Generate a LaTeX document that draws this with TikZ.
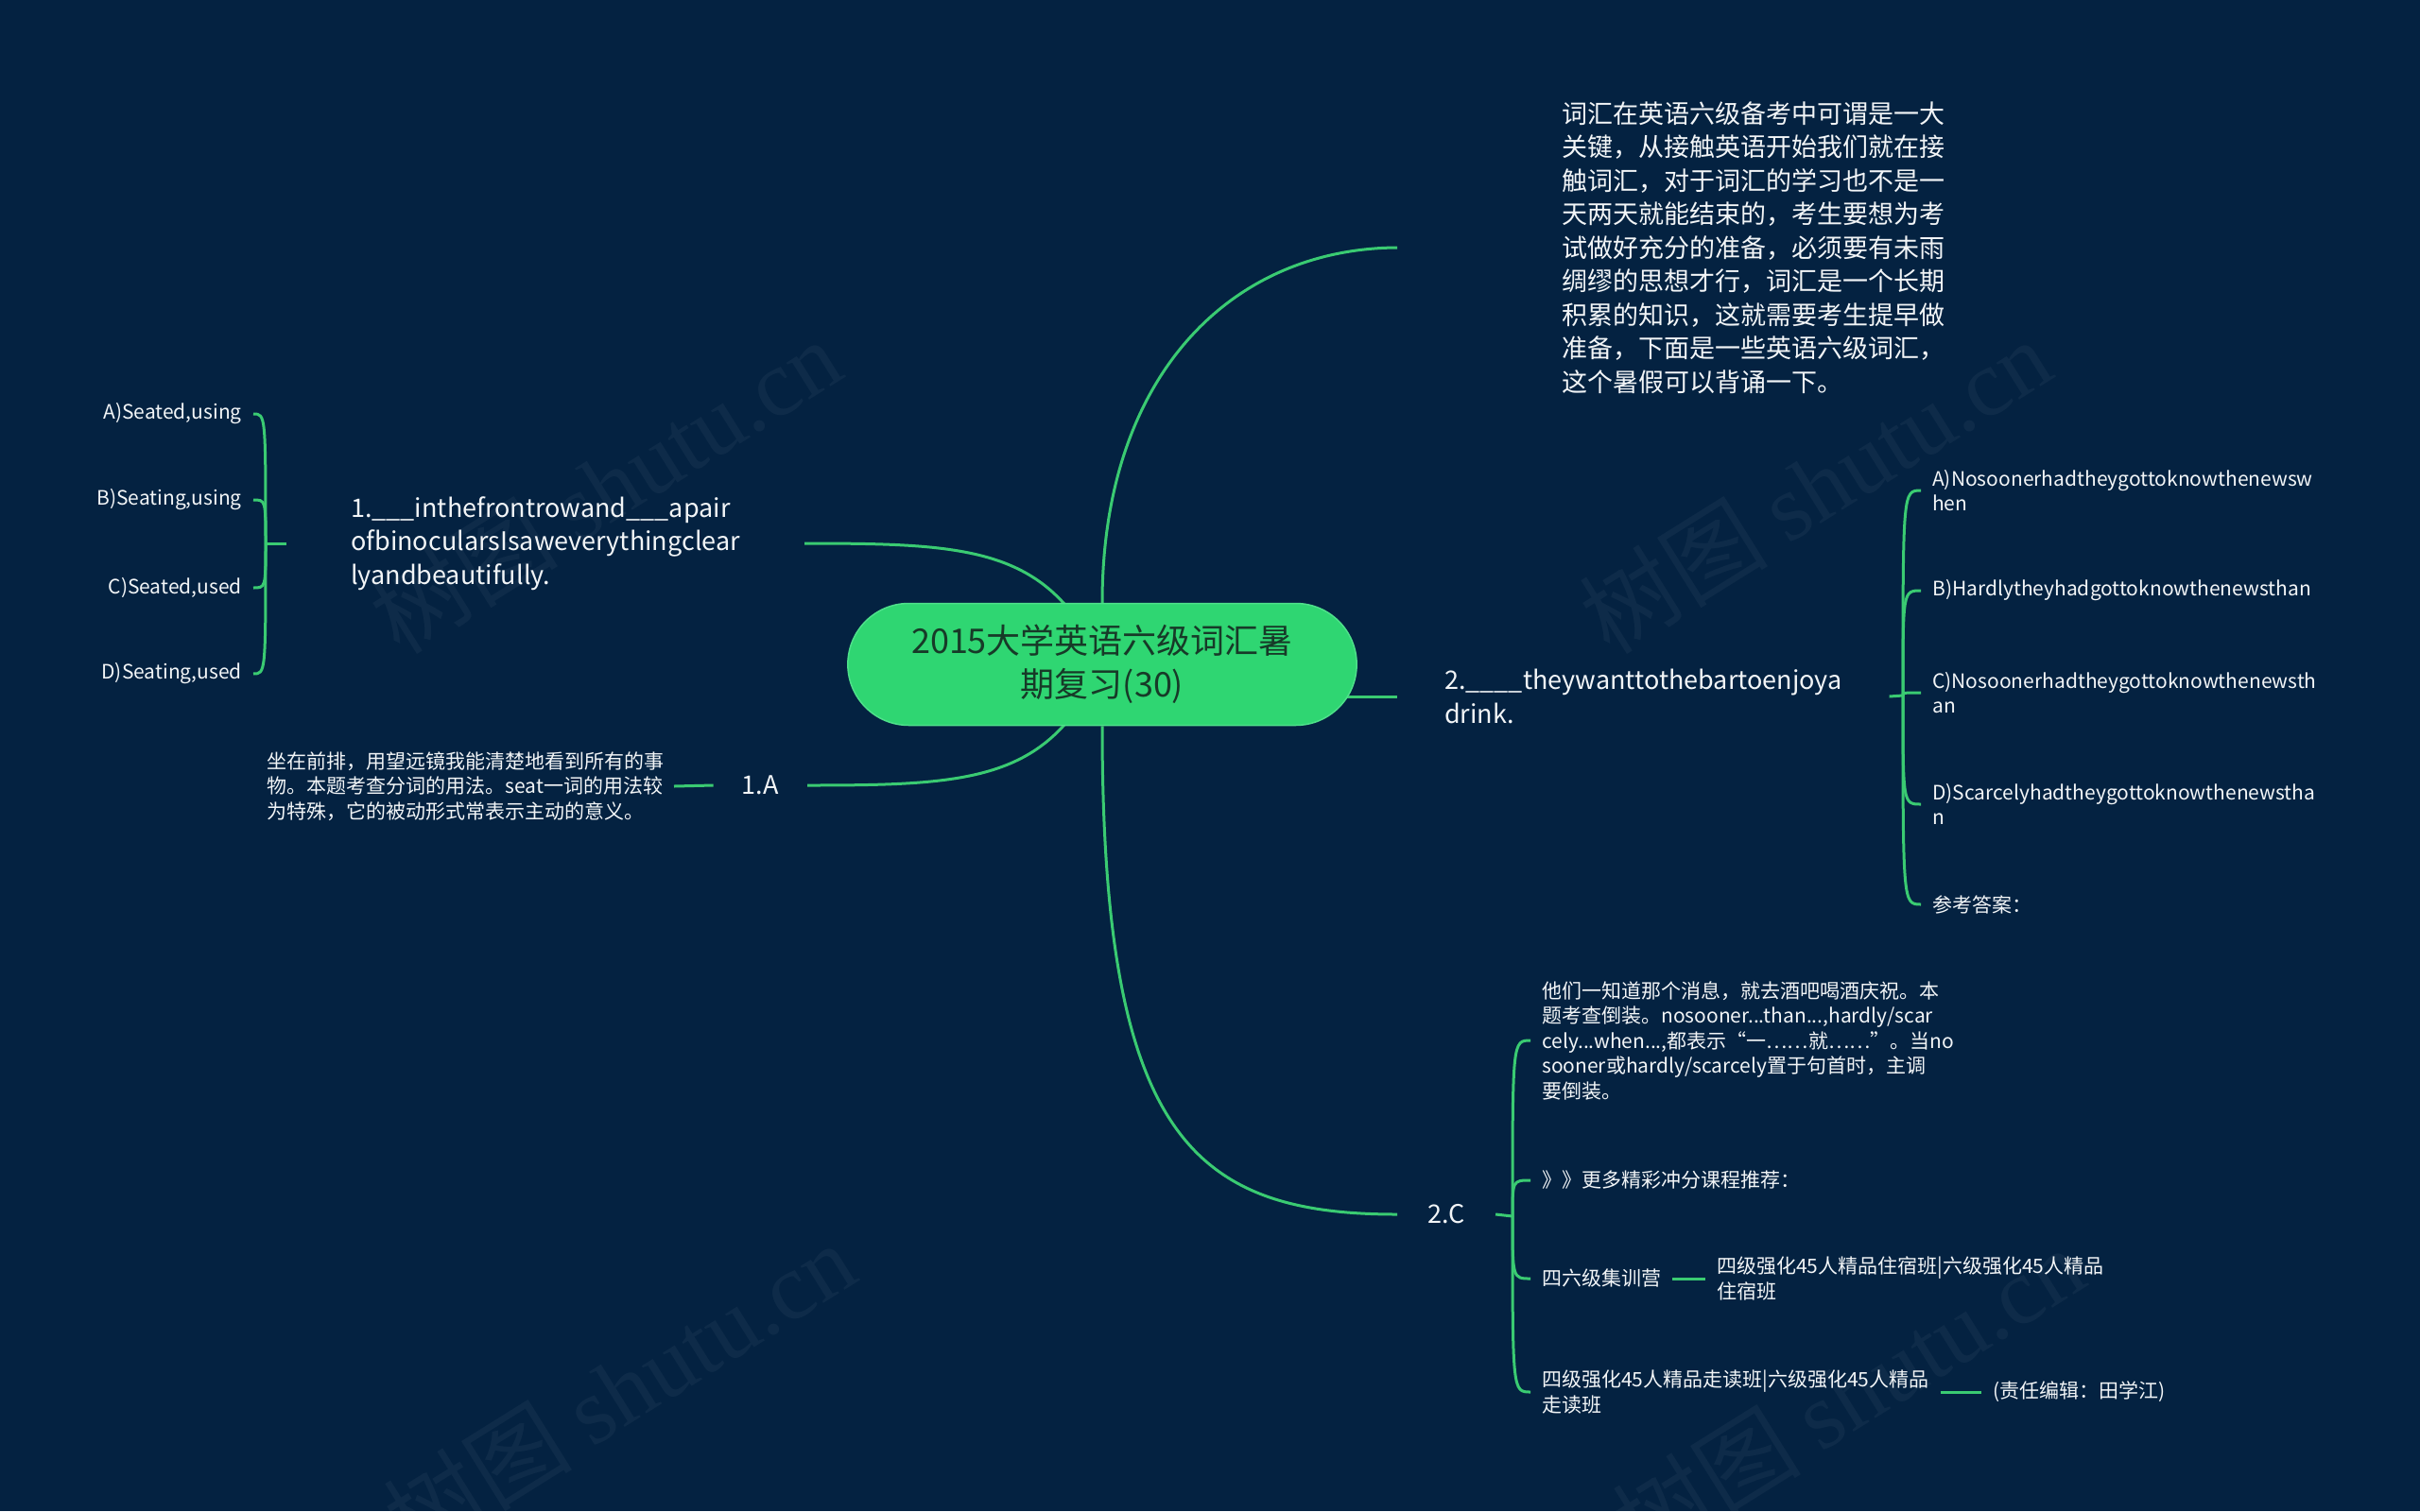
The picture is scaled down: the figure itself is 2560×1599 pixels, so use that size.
\documentclass[tikz,border=0pt]{standalone}
\usepackage{fontspec}
\setmainfont{Noto Sans CJK SC}
\newfontfamily\wmfont{Liberation Serif}
\usetikzlibrary{shapes.misc}
\pgfdeclarelayer{bg}
\pgfdeclarelayer{lines}
\pgfsetlayers{bg,lines,main}
\definecolor{bgnavy}{HTML}{042241}
\definecolor{lgreen}{HTML}{3ACB72}
\definecolor{rootfill}{HTML}{2FD672}
\definecolor{rootedge}{HTML}{4EE08A}
\definecolor{roottext}{HTML}{173A28}
\definecolor{txtc}{HTML}{F2F5F7}
\tikzset{
  conn/.style={draw=lgreen, line width=3pt},
  bigtxt/.style={text=txtc, font=\fontsize{27}{35.5}\selectfont, align=left, inner ysep=0pt},
  smtxt/.style={text=txtc, font=\fontsize{21}{26.5}\selectfont, align=left, inner ysep=0pt, inner xsep=12pt},
  wmark/.style={text=white, opacity=0.045, font=\fontsize{100}{100}\selectfont, rotate=32}
}
\begin{document}
\begin{tikzpicture}[x=1pt,y=-1pt]
\useasboundingbox (0,0) rectangle (2560,1599);
\begin{pgfonlayer}{bg}
\fill[bgnavy] (0,0) rectangle (2560,1599);
\node[wmark] (wm1) at (640,514) {树图 {\wmfont shutu.cn}};
\node[wmark] (wm2) at (1920,514) {树图 {\wmfont shutu.cn}};
\node[wmark] (wm3) at (655,1470) {树图 {\wmfont shutu.cn}};
\node[wmark] (wm4) at (1955,1475) {树图 {\wmfont shutu.cn}};
\end{pgfonlayer}

% root
\node[rounded rectangle, fill=rootfill, draw=rootedge, line width=1.5pt,
      minimum width=545pt, minimum height=129pt, text=roottext,
      font=\fontsize{36}{46}\selectfont, align=center] (root) at (1166,703)
      {2015大学英语六级词汇暑\\期复习(30)};

% intro
\node[bigtxt, inner xsep=174pt, anchor=west] (intro) at (1478,262)
 {词汇在英语六级备考中可谓是一大\\关键，从接触英语开始我们就在接\\触词汇，对于词汇的学习也不是一\\天两天就能结束的，考生要想为考\\试做好充分的准备，必须要有未雨\\绸缪的思想才行，词汇是一个长期\\积累的知识，这就需要考生提早做\\准备，下面是一些英语六级词汇，\\这个暑假可以背诵一下。};

% question 1
\node[bigtxt, inner xsep=68pt, anchor=west] (q1) at (303,575)
 {1.\_\_\_inthefrontrowand\_\_\_apair\\ofbinocularsIsaweverythingclear\\lyandbeautifully.};
\node[smtxt, align=right, anchor=east] (oa) at (268,438) {A)Seated,using};
\node[smtxt, align=right, anchor=east] (ob) at (268,529) {B)Seating,using};
\node[smtxt, align=right, anchor=east] (oc) at (268,622) {C)Seated,used};
\node[smtxt, align=right, anchor=east] (od) at (268,713) {D)Seating,used};
\coordinate (bq1) at (281,575);

\node[bigtxt, inner xsep=30pt, anchor=east] (a1) at (854,831) {1.A};
\node[smtxt, inner xsep=10pt, anchor=east] (a1ana) at (713,832)
 {坐在前排，用望远镜我能清楚地看到所有的事\\物。本题考查分词的用法。seat一词的用法较\\为特殊，它的被动形式常表示主动的意义。};

% question 2
\node[bigtxt, inner xsep=50pt, anchor=west] (q2) at (1478,737)
 {2.\_\_\_\_theywanttothebartoenjoya\\drink.};
\coordinate (bq2) at (2013,736);
\node[smtxt, anchor=west] (pa) at (2032,519) {A)Nosoonerhadtheygottoknowthenewsw\\hen};
\node[smtxt, anchor=west] (pb) at (2032,625) {B)Hardlytheyhadgottoknowthenewsthan};
\node[smtxt, anchor=west] (pc) at (2032,733) {C)Nosoonerhadtheygottoknowthenewsth\\an};
\node[smtxt, anchor=west] (pd) at (2032,851) {D)Scarcelyhadtheygottoknowthenewstha\\n};
\node[smtxt, anchor=west] (pans) at (2032,957) {参考答案：};

% answer 2
\node[bigtxt, inner xsep=32pt, anchor=west] (c2) at (1478,1285) {2.C};
\coordinate (bc2) at (1600,1287);
\node[smtxt, anchor=west] (ana2) at (1619,1101)
 {他们一知道那个消息，就去酒吧喝酒庆祝。本\\题考查倒装。nosooner...than...,hardly/scar\\cely...when...,都表示“一……就……”。当no\\sooner或hardly/scarcely置于句首时，主调\\要倒装。};
\node[smtxt, anchor=west] (more) at (1619,1249) {》》更多精彩冲分课程推荐：};
\node[smtxt, anchor=west] (jixun) at (1619,1353) {四六级集训营};
\node[smtxt, anchor=west] (zhusu) at (1804,1353) {四级强化45人精品住宿班|六级强化45人精品\\住宿班};
\node[smtxt, anchor=west] (zoudu) at (1619,1473) {四级强化45人精品走读班|六级强化45人精品\\走读班};
\node[smtxt, anchor=west] (editor) at (2096,1473) {(责任编辑：田学江)};

\begin{pgfonlayer}{lines}
\draw[conn] (root.north) .. controls (1166,400) and (1300,263) .. (intro.west);
\draw[conn] (q1.east) .. controls (1030,575) and (1110,580) .. (root.center);
\draw[conn] (a1.east) .. controls (1030,831) and (1110,826) .. (root.center);
\draw[conn] (q2.west) -- (root.center |- q2.west);
\draw[conn] (root.south) .. controls (1166,1200) and (1260,1285) .. (c2.west);

\draw[conn] (q1.west) -- (bq1);
\foreach \n in {oa,ob,oc,od}
  \draw[conn] (bq1) .. controls (bq1 |- \n.east) and (bq1 |- \n.east) .. (\n.east);
\draw[conn] (a1.west) -- (a1ana.east);

\draw[conn] (q2.east) -- (bq2);
\foreach \n in {pa,pb,pc,pd,pans}
  \draw[conn] (bq2) .. controls (bq2 |- \n.west) and (bq2 |- \n.west) .. (\n.west);

\draw[conn] (c2.east) -- (bc2);
\foreach \n in {ana2,more,jixun,zoudu}
  \draw[conn] (bc2) .. controls (bc2 |- \n.west) and (bc2 |- \n.west) .. (\n.west);
\draw[conn] (jixun.east) -- (zhusu.west);
\draw[conn] (zoudu.east) -- (editor.west);
\end{pgfonlayer}
\end{tikzpicture}
\end{document}
